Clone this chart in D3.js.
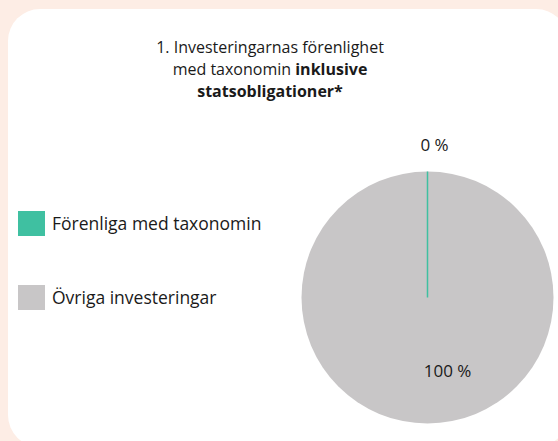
<!DOCTYPE html>
<html>
<head>
<meta charset="utf-8">
<script src="https://cdn.jsdelivr.net/npm/d3@7"></script>
<style>
  html, body { margin: 0; padding: 0; background: #fdede5; }
  svg { display: block; font-family: "Open Sans", "Roboto", sans-serif; }
</style>
</head>
<body>
<div id="chart"></div>
<script>
// Data
const categories = ["Förenliga med taxonomin", "Övriga investeringar"];
const values = [0, 100];
const valueLabels = ["0 %", "100 %"];
const colors = ["#3fc0a1", "#c8c6c7"];

const W = 558, H = 441;
const svg = d3.select("#chart").append("svg")
  .attr("width", W)
  .attr("height", H);

// kort (vit bakgrund)
svg.append("rect")
  .attr("x", 8).attr("y", 9)
  .attr("width", 560).attr("height", 438)
  .attr("rx", 32)
  .attr("fill", "#fff");

// Titel
const title = svg.append("text")
  .attr("text-anchor", "middle")
  .style("font-size", "16px")
  .style("fill", "#1a1a1a");
title.append("tspan").attr("x", 270).attr("y", 53).text("1. Investeringarnas förenlighet");
const l2 = title.append("tspan").attr("x", 270).attr("y", 75);
l2.append("tspan").text("med taxonomin ");
l2.append("tspan").style("font-weight", "700").text("inklusive");
title.append("tspan").attr("x", 270).attr("y", 97).style("font-weight", "700").text("statsobligationer*");

// Pie
const cx = 427.5, cy = 297.5, r = 126;
const pie = d3.pie().sort(null).value(d => d.value);
const arcs = pie(categories.map((c, i) => ({ name: c, value: values[i], label: valueLabels[i], color: colors[i] })));
const arc = d3.arc().innerRadius(0).outerRadius(r);

const g = svg.append("g").attr("transform", `translate(${cx},${cy})`);

// större skivor först, sedan 0-skivan överst
const order = arcs.slice().sort((a, b) => b.data.value - a.data.value);
g.selectAll("path.slice")
  .data(order)
  .enter().append("path")
  .attr("class", "slice")
  .attr("d", arc)
  .attr("fill", d => d.data.color)
  .attr("stroke", d => d.data.value === 0 ? d.data.color : "none")
  .attr("stroke-width", 1.5);

// Etiketter
const labelArcOuter = d3.arc().innerRadius(r + 26).outerRadius(r + 26);
const labelArcInner = d3.arc().innerRadius(r * 0.58).outerRadius(r * 0.58);
g.selectAll("text.val")
  .data(arcs)
  .enter().append("text")
  .attr("class", "val")
  .attr("text-anchor", "middle")
  .attr("dy", "0.35em")
  .attr("transform", d => {
    const [x, y] = d.data.value === 0 ? labelArcOuter.centroid(d) : labelArcInner.centroid(d);
    const dx = d.data.value === 0 ? 7 : 20;
    return `translate(${x + dx},${y})`;
  })
  .style("font-size", "17px")
  .style("fill", "#1a1a1a")
  .text(d => d.data.label);

// Legend
const legend = svg.append("g").attr("transform", "translate(18,211)");
const item = legend.selectAll("g")
  .data(categories)
  .enter().append("g")
  .attr("transform", (d, i) => `translate(0,${i * 74})`);
item.append("rect")
  .attr("width", 27).attr("height", 25)
  .attr("fill", (d, i) => colors[i]);
item.append("text")
  .attr("x", 34).attr("y", 19)
  .style("font-size", "17.5px")
  .style("fill", "#1a1a1a")
  .text(d => d);
</script>
</body>
</html>
